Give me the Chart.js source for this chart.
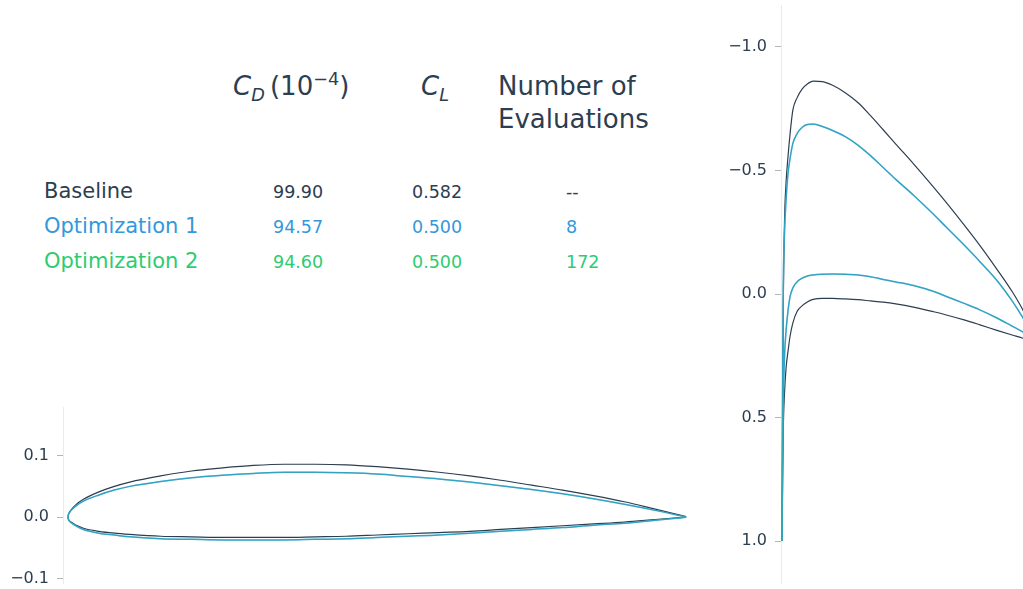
<!DOCTYPE html>
<html>
<head>
<meta charset="utf-8">
<script src="https://cdn.jsdelivr.net/npm/chart.js@4.4.1/dist/chart.umd.min.js"></script>
<style>
  body { margin:0; width:1023px; height:589px; overflow:hidden; position:relative; background:#fff;
         font-family:"DejaVu Sans", sans-serif; color:#2c3e50; }
  .t { position:absolute; white-space:nowrap; }
  .hd { font-size:26px; line-height:33px; top:70px; }
  .row { font-size:21px; line-height:21px; }
  .val { font-size:17.5px; line-height:17.5px; }
  .hd sub, .hd sup { font-size:0.68em; line-height:0; }
  canvas { position:absolute; }
</style>
</head>
<body>
<div class="t hd" style="left:233px"><i>C</i><sub><i>D</i></sub>&#8201;(10<sup>−4</sup>)</div>
<div class="t hd" style="left:421px"><i>C</i><sub><i>L</i></sub></div>
<div class="t hd" style="left:498px">Number of<br>Evaluations</div>
<div id="table"></div>

<canvas id="foil" width="700" height="189" style="left:0;top:400px"></canvas>
<canvas id="cp" width="350" height="589" style="left:700px;top:0"></canvas>

<script>
const colors = ["#2c3e50", "#3498db", "#2ecc71"];
const lineColors = ["#2c3e50", "#3498db", "rgba(46,204,113,0.22)"];
const lineWidths = [1.2, 1.5, 1.5];

const rowNames = ["Baseline", "Optimization 1", "Optimization 2"];
const cdValues = ["99.90", "94.57", "94.60"];
const clValues = ["0.582", "0.500", "0.500"];
const evalValues = ["--", "8", "172"];

// airfoil geometry, chord stations
const chordX = [0, 0.0005, 0.002, 0.005, 0.0125, 0.025, 0.05, 0.075, 0.1, 0.15, 0.2, 0.25, 0.3, 0.35, 0.4, 0.45,
                0.5, 0.55, 0.6, 0.65, 0.7, 0.75, 0.8, 0.85, 0.9, 0.95, 1.0];
const baseUpper = [0, 0.0035, 0.0072, 0.012, 0.020, 0.029, 0.041, 0.050, 0.057, 0.067, 0.075, 0.080, 0.084, 0.086, 0.086, 0.085,
                   0.082, 0.078, 0.073, 0.067, 0.060, 0.052, 0.044, 0.035, 0.025, 0.013, 0.001];
const baseLower = [0, -0.0028, -0.0055, -0.008, -0.013, -0.018, -0.023, -0.026, -0.028, -0.031, -0.032, -0.033, -0.033, -0.033, -0.032, -0.031,
                   -0.029, -0.027, -0.025, -0.023, -0.020, -0.017, -0.014, -0.011, -0.008, -0.004, 0];
const opt1Upper = [0, 0.0033, 0.0068, 0.011, 0.018, 0.026, 0.036, 0.044, 0.050, 0.058, 0.064, 0.068, 0.071, 0.073, 0.073, 0.072,
                   0.070, 0.066, 0.062, 0.057, 0.051, 0.045, 0.038, 0.030, 0.021, 0.011, 0];
const opt1Lower = [0, -0.003, -0.006, -0.009, -0.014, -0.020, -0.026, -0.029, -0.032, -0.035, -0.036, -0.037, -0.037, -0.037, -0.036, -0.035,
                   -0.033, -0.031, -0.029, -0.026, -0.023, -0.020, -0.017, -0.013, -0.010, -0.005, 0];
const opt2Upper = [0, 0.0033, 0.0068, 0.011, 0.018, 0.026, 0.036, 0.044, 0.050, 0.058, 0.064, 0.068, 0.071, 0.073, 0.073, 0.072,
                   0.070, 0.066, 0.062, 0.057, 0.051, 0.045, 0.038, 0.030, 0.021, 0.011, 0];
const opt2Lower = [0, -0.003, -0.006, -0.009, -0.014, -0.020, -0.026, -0.029, -0.032, -0.035, -0.036, -0.037, -0.037, -0.037, -0.036, -0.035,
                   -0.033, -0.031, -0.029, -0.026, -0.023, -0.020, -0.017, -0.013, -0.010, -0.005, 0];
const foilTicks = [-0.1, 0, 0.1];

// pressure coefficient
const cpX = [0, 0.002, 0.005, 0.01, 0.016, 0.024, 0.032, 0.043, 0.06, 0.08, 0.1, 0.123, 0.16, 0.2, 0.25,
             0.3, 0.35, 0.4, 0.45, 0.52, 0.6, 0.65, 0.72, 0.78, 0.85, 0.91, 0.95, 0.98, 1.0];
const cpBaseUpper = [1.0, 0.55, 0.05, -0.3, -0.45, -0.56, -0.65, -0.745, -0.795, -0.83, -0.85, -0.862, -0.86, -0.845, -0.815,
                     -0.775, -0.722, -0.665, -0.607, -0.527, -0.432, -0.37, -0.28, -0.2, -0.1, -0.01, 0.06, 0.125, 0.18];
const cpBaseLower = [1.0, 0.8, 0.55, 0.4, 0.3, 0.23, 0.17, 0.117, 0.07, 0.047, 0.032, 0.022, 0.018, 0.018, 0.02,
                     0.023, 0.028, 0.033, 0.04, 0.053, 0.072, 0.085, 0.105, 0.124, 0.147, 0.166, 0.178, 0.19, 0.2];
const cpOpt1Upper = [1.0, 0.5, -0.02, -0.25, -0.38, -0.49, -0.55, -0.61, -0.65, -0.675, -0.686, -0.688, -0.678, -0.662, -0.637,
                     -0.603, -0.56, -0.512, -0.464, -0.40, -0.322, -0.27, -0.198, -0.134, -0.055, 0.028, 0.092, 0.145, 0.19];
const cpOpt1Lower = [1.0, 0.75, 0.45, 0.25, 0.15, 0.065, 0.01, -0.025, -0.05, -0.064, -0.073, -0.077, -0.08, -0.081, -0.08,
                     -0.077, -0.07, -0.059, -0.049, -0.034, -0.01, 0.01, 0.038, 0.063, 0.097, 0.13, 0.152, 0.168, 0.18];
const cpOpt2Upper = [1.0, 0.5, -0.02, -0.25, -0.38, -0.49, -0.55, -0.61, -0.65, -0.675, -0.686, -0.688, -0.678, -0.662, -0.637,
                     -0.603, -0.56, -0.512, -0.464, -0.40, -0.322, -0.27, -0.198, -0.134, -0.055, 0.028, 0.092, 0.145, 0.19];
const cpOpt2Lower = [1.0, 0.75, 0.45, 0.25, 0.15, 0.065, 0.01, -0.025, -0.05, -0.064, -0.073, -0.077, -0.08, -0.081, -0.08,
                     -0.077, -0.07, -0.059, -0.049, -0.034, -0.01, 0.01, 0.038, 0.063, 0.097, 0.13, 0.152, 0.168, 0.18];
const cpTicks = [-1.0, -0.5, 0.0, 0.5, 1.0];

// table text
const table = document.getElementById("table");
rowNames.forEach((name, i) => {
  const top = 181 + i * 35;
  const cells = [[44, name, "row", top], [273, cdValues[i], "val", top + 3],
                 [412, clValues[i], "val", top + 3], [566, evalValues[i], "val", top + 3]];
  cells.forEach(([left, txt, cls, t]) => {
    const d = document.createElement("div");
    d.className = "t " + cls;
    d.style.left = left + "px";
    d.style.top = t + "px";
    d.style.color = colors[i];
    d.textContent = txt;
    table.appendChild(d);
  });
});

const pts = (xs, ys) => xs.map((x, i) => ({ x, y: ys[i] }));
const fmt = (v) => (v < 0 ? "\u2212" : "") + Math.abs(v).toFixed(1);

// green on top of blue, blue on top of dark
function ds(data, i) {
  return {
    data, borderColor: lineColors[i], borderWidth: lineWidths[i], pointRadius: 0,
    cubicInterpolationMode: "monotone", fill: false, order: 2 - i
  };
}

function yAxis(ticks, width, extra) {
  return Object.assign({
    type: "linear",
    afterFit: (s) => { s.width = width; s.paddingTop = 0; s.paddingBottom = 0; },
    afterBuildTicks: (s) => { s.ticks = ticks.map(v => ({ value: v })); },
    border: { display: true, color: "#e9ecef", width: 1 },
    grid: { drawOnChartArea: false, drawTicks: true, tickLength: 6, color: "#b0b6bc" },
    ticks: { padding: 8, color: "#2c3e50", font: { family: "DejaVu Sans", size: 16 }, callback: fmt }
  }, extra);
}

const common = {
  responsive: false, animation: false,
  plugins: { legend: { display: false }, tooltip: { enabled: false } }
};

new Chart(document.getElementById("foil"), {
  type: "line",
  data: {
    datasets: [
      ds(pts(chordX, baseUpper), 0), ds(pts(chordX, baseLower), 0),
      ds(pts(chordX, opt1Upper), 1), ds(pts(chordX, opt1Lower), 1),
      ds(pts(chordX, opt2Upper), 2), ds(pts(chordX, opt2Lower), 2)
    ]
  },
  options: Object.assign({}, common, {
    layout: { padding: { top: 7, bottom: 6, right: 12, left: 0 } },
    scales: {
      x: { type: "linear", display: false, min: -0.0081, max: 1.003 },
      y: yAxis(foilTicks, 63, { min: -0.107, max: 0.179 })
    }
  })
});

new Chart(document.getElementById("cp"), {
  type: "line",
  data: {
    datasets: [
      ds(pts(cpX, cpBaseUpper), 0), ds(pts(cpX, cpBaseLower), 0),
      ds(pts(cpX, cpOpt1Upper), 1), ds(pts(cpX, cpOpt1Lower), 1),
      ds(pts(cpX, cpOpt2Upper), 2), ds(pts(cpX, cpOpt2Lower), 2)
    ]
  },
  options: Object.assign({}, common, {
    layout: { padding: { top: 5, bottom: 6, right: 5, left: 0 } },
    scales: {
      x: { type: "linear", display: false, min: -0.004, max: 1.04 },
      y: yAxis(cpTicks, 81, { min: -1.17, max: 1.17, reverse: true })
    }
  })
});
</script>
</body>
</html>
